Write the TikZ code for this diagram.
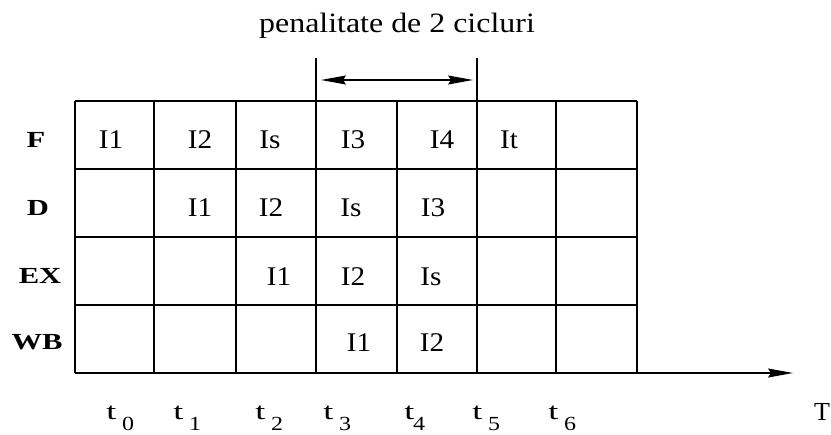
\documentclass[tikz,border=0pt]{standalone}
\usepackage{fontspec}
\setmainfont{Liberation Serif}
\usetikzlibrary{arrows.meta}
\begin{document}
\begin{tikzpicture}[x=1pt,y=-1pt,
  gridline/.style={line width=1.3pt,black},
  cell/.style={inner sep=0pt,anchor=center,font=\fontsize{27}{30}\selectfont,xscale=1.08},
  rowlab/.style={inner sep=0pt,anchor=center,font=\bfseries\fontsize{23}{26}\selectfont,xscale=1.33},
  tlab/.style={inner sep=0pt,anchor=base west,font=\fontsize{24}{26}\selectfont,xscale=1.5},
  tsub/.style={inner sep=0pt,anchor=base west,font=\fontsize{20}{22}\selectfont,xscale=1.2},
  title/.style={inner sep=0pt,anchor=base,font=\fontsize{28}{32}\selectfont,xscale=1.14},
  arrowline/.style={line width=1.3pt,black}
]
\useasboundingbox[fill=white] (0,0) rectangle (831,435);

% title
\node[title] (ttl) at (397,33) {penalitate de 2 cicluri};

% grid
\foreach \y in {101,169,237,305} {
  \draw[gridline] (75,\y) -- (637,\y);
}
\foreach \x in {75,154,236,397,556,637} {
  \draw[gridline] (\x,101) -- (\x,373);
}
\foreach \x in {316,477} {
  \draw[gridline] (\x,58) -- (\x,373);
}

% penalty arrow
\coordinate (pa) at (321,80);
\coordinate (pb) at (473,80);
\draw[arrowline,{Stealth[length=25pt,width=9pt,inset=3pt]}-{Stealth[length=25pt,width=9pt,inset=3pt]}] (pa) -- (pb);

% time axis
\coordinate (ax0) at (75,373);
\coordinate (ax1) at (793,373);
\draw[arrowline,-{Stealth[length=25pt,width=9pt,inset=3pt]}] (ax0) -- (ax1);

% row labels
\node[rowlab] (lF) at (36,140) {F};
\node[rowlab] (lD) at (38,208) {D};
\node[rowlab] (lEX) at (40,276) {EX};
\node[rowlab] (lWB) at (37,342) {WB};

% F row
\node[cell] (f1) at (111,140) {I1};
\node[cell] (f2) at (200,140) {I2};
\node[cell] (f3) at (270,140) {Is};
\node[cell] (f4) at (353,140) {I3};
\node[cell] (f5) at (442,140) {I4};
\node[cell] (f6) at (509,140) {It};
% D row
\node[cell] (d1) at (200,208) {I1};
\node[cell] (d2) at (271,208) {I2};
\node[cell] (d3) at (351,208) {Is};
\node[cell] (d4) at (433,208) {I3};
% EX row
\node[cell] (e1) at (279,277) {I1};
\node[cell] (e2) at (353,277) {I2};
\node[cell] (e3) at (431,277) {Is};
% WB row
\node[cell] (w1) at (359,343) {I1};
\node[cell] (w2) at (432,343) {I2};

% time labels
\foreach \tx/\sx/\i in {106/122/0,173/189/1,255/271/2,323/339/3,404/413/4,472/488/5,548/564/6} {
  \node[tlab] (t\i) at (\tx,420) {t};
  \node[tsub] (s\i) at (\sx,431) {\i};
}
\node[inner sep=0pt,anchor=center,font=\fontsize{26}{28}\selectfont] (T) at (822,412) {T};
\end{tikzpicture}
\end{document}
